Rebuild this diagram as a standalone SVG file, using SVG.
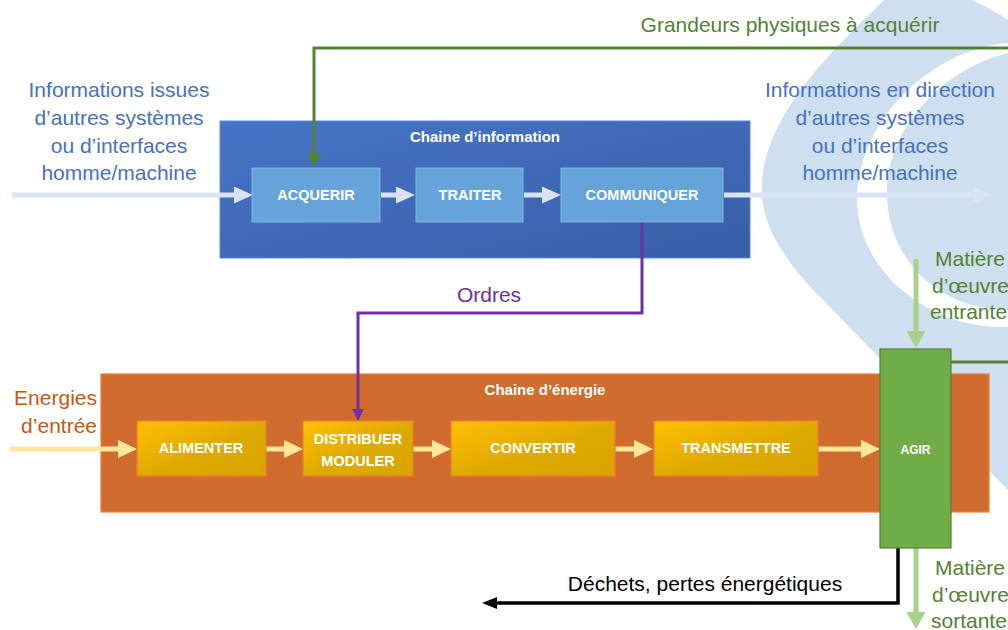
<svg xmlns="http://www.w3.org/2000/svg" width="1008" height="630" viewBox="0 0 1008 630">
<defs>
<style>
.t{font-family:"Liberation Sans",Arial,sans-serif;font-size:21px}
.b{font-family:"Liberation Sans",Arial,sans-serif;font-weight:bold;fill:#fff;text-anchor:middle}
.blue{fill:#4472c4;text-anchor:middle}
.grn{fill:#548235}
.ibox{fill:#66a3d9;stroke:#80b4e2;stroke-width:1}
.ebox{fill:url(#gold);stroke:#ed7d31;stroke-width:1.2}
.iarr{stroke:#dae3f3;stroke-width:5;fill:none}
.earr{stroke:#ffe699;stroke-width:5;fill:none}
.larr{stroke:#a9d18e;stroke-width:5;fill:none}
</style>
<linearGradient id="bluegrad" x1="0" y1="0" x2="1" y2="1">
<stop offset="0" stop-color="#4674c6"/>
<stop offset="1" stop-color="#375fa6"/>
</linearGradient>
<linearGradient id="gold" x1="0" y1="0" x2="1" y2="1">
<stop offset="0" stop-color="#ffc000"/>
<stop offset="0.55" stop-color="#dea900"/>
<stop offset="1" stop-color="#d9a400"/>
</linearGradient>
<marker id="hInfo" markerUnits="userSpaceOnUse" markerWidth="19" markerHeight="17" refX="0" refY="8.5" orient="auto"><path d="M0,0 L19,8.5 L0,17 Z" fill="#dae3f3"/></marker>
<marker id="hEn" markerUnits="userSpaceOnUse" markerWidth="19" markerHeight="18" refX="0" refY="9" orient="auto"><path d="M0,0 L19,9 L0,18 Z" fill="#ffe699"/></marker>
<marker id="hLg" markerUnits="userSpaceOnUse" markerWidth="17" markerHeight="19" refX="0" refY="9.5" orient="auto"><path d="M0,0 L17,9.5 L0,19 Z" fill="#a9d18e"/></marker>
<marker id="hDg" markerUnits="userSpaceOnUse" markerWidth="14" markerHeight="14" refX="0" refY="7" orient="auto"><path d="M0,0 L14,7 L0,14 Z" fill="#548235"/></marker>
<marker id="hPu" markerUnits="userSpaceOnUse" markerWidth="12" markerHeight="12" refX="0" refY="6" orient="auto"><path d="M0,0 L12,6 L0,12 Z" fill="#7030a0"/></marker>
<marker id="hBk" markerUnits="userSpaceOnUse" markerWidth="15" markerHeight="12" refX="0" refY="6" orient="auto"><path d="M0,0 L15,6 L0,12 Z" fill="#000"/></marker>
</defs>
<rect width="1008" height="630" fill="#fff"/>
<g id="background">
<path d="M884,0 L971,0 C985,6 998,13 1008,20 L1008,490 L823,300 C785,262 758,222 762,182 C767,110 838,45 884,0 Z" fill="#cedff0"/>
<path d="M1008,43 C930,50 858,120 857,200 C858,272 930,330 1008,327 L1008,310 C940,310 887,260 887,193 C887,130 940,70 1008,53 Z" fill="#fff"/>
</g>
<g id="chaine-information">
<rect x="220" y="121" width="530" height="137" fill="url(#bluegrad)" stroke="#5b8bd8" stroke-width="1"/>
<text class="b" x="485" y="142" font-size="15">Chaine d’information</text>
</g>
<g id="chaine-energie">
<rect x="101" y="374" width="888" height="138" fill="#d06c2d" stroke="#ed7d31" stroke-width="1.2"/>
<text class="b" x="545" y="395" font-size="15">Chaine d’énergie</text>
</g>
<g id="connectors">
<polyline points="1008,48 314,48 314,153" fill="none" stroke="#548235" stroke-width="3" marker-end="url(#hDg)"/>
<polyline points="642,222 642,313 358,313 358,409" fill="none" stroke="#7030a0" stroke-width="3" marker-end="url(#hPu)"/>
<polyline points="898,548 898,603 497,603" fill="none" stroke="#000" stroke-width="3.5" marker-end="url(#hBk)"/>
<line class="iarr" x1="12" y1="195" x2="234" y2="195" marker-end="url(#hInfo)"/>
<line class="iarr" x1="381" y1="195" x2="396" y2="195" marker-end="url(#hInfo)"/>
<line class="iarr" x1="524" y1="195" x2="542" y2="195" marker-end="url(#hInfo)"/>
<line class="iarr" x1="724" y1="195" x2="973" y2="195" marker-end="url(#hInfo)"/>
<line class="earr" x1="10" y1="449" x2="118" y2="449" marker-end="url(#hEn)"/>
<line class="earr" x1="266" y1="449" x2="284" y2="449" marker-end="url(#hEn)"/>
<line class="earr" x1="413" y1="449" x2="432" y2="449" marker-end="url(#hEn)"/>
<line class="earr" x1="615" y1="449" x2="634" y2="449" marker-end="url(#hEn)"/>
<line class="earr" x1="818" y1="449" x2="861" y2="449" marker-end="url(#hEn)"/>
<line class="larr" x1="916" y1="259" x2="916" y2="331" marker-end="url(#hLg)"/>
<line class="larr" x1="916" y1="548" x2="916" y2="612" marker-end="url(#hLg)"/>
<line x1="951" y1="362" x2="1008" y2="362" stroke="#548235" stroke-width="3"/>
</g>
<g id="acquerir"><rect class="ibox" x="252" y="168" width="128" height="54"/><text class="b" x="316" y="200" font-size="14.5">ACQUERIR</text></g>
<g id="traiter"><rect class="ibox" x="416" y="168" width="107" height="54"/><text class="b" x="470" y="200" font-size="14.5">TRAITER</text></g>
<g id="communiquer"><rect class="ibox" x="561" y="168" width="162" height="54"/><text class="b" x="642" y="200" font-size="14.5">COMMUNIQUER</text></g>
<g id="alimenter"><rect class="ebox" x="137" y="421" width="129" height="55"/><text class="b" x="201" y="453" font-size="14.5">ALIMENTER</text></g>
<g id="distribuer"><rect class="ebox" x="303" y="421" width="110" height="55"/><text class="b" x="358" y="444" font-size="14.5">DISTRIBUER</text><text class="b" x="358" y="466" font-size="14.5">MODULER</text></g>
<g id="convertir"><rect class="ebox" x="451" y="421" width="164" height="55"/><text class="b" x="533" y="453" font-size="14.5">CONVERTIR</text></g>
<g id="transmettre"><rect class="ebox" x="654" y="421" width="164" height="55"/><text class="b" x="736" y="453" font-size="14.5">TRANSMETTRE</text></g>
<g id="agir"><rect x="880" y="349" width="71" height="199" fill="#70ad47" stroke="#548235" stroke-width="1.2"/><text class="b" x="915.5" y="454" font-size="12">AGIR</text></g>
<g id="labels">
<text class="t grn" x="790" y="32" text-anchor="middle">Grandeurs physiques à acquérir</text>
<text class="t blue" x="119" y="97">Informations issues</text>
<text class="t blue" x="119" y="125">d’autres systèmes</text>
<text class="t blue" x="119" y="153">ou d’interfaces</text>
<text class="t blue" x="119" y="180">homme/machine</text>
<text class="t blue" x="880" y="97">Informations en direction</text>
<text class="t blue" x="880" y="125">d’autres systèmes</text>
<text class="t blue" x="880" y="153">ou d’interfaces</text>
<text class="t blue" x="880" y="180">homme/machine</text>
<text class="t" x="489" y="302" fill="#7030a0" text-anchor="middle">Ordres</text>
<text class="t" x="97" y="405" fill="#c55a11" text-anchor="end">Energies</text>
<text class="t" x="97" y="433" fill="#c55a11" text-anchor="end">d’entrée</text>
<text class="t grn" x="935" y="266">Matière</text>
<text class="t grn" x="932" y="293">d’œuvre</text>
<text class="t grn" x="930" y="319">entrante</text>
<text class="t grn" x="935" y="575">Matière</text>
<text class="t grn" x="932" y="602">d’œuvre</text>
<text class="t grn" x="931" y="628">sortante</text>
<text class="t" x="705" y="591" fill="#000" text-anchor="middle">Déchets, pertes énergétiques</text>
</g>
</svg>
